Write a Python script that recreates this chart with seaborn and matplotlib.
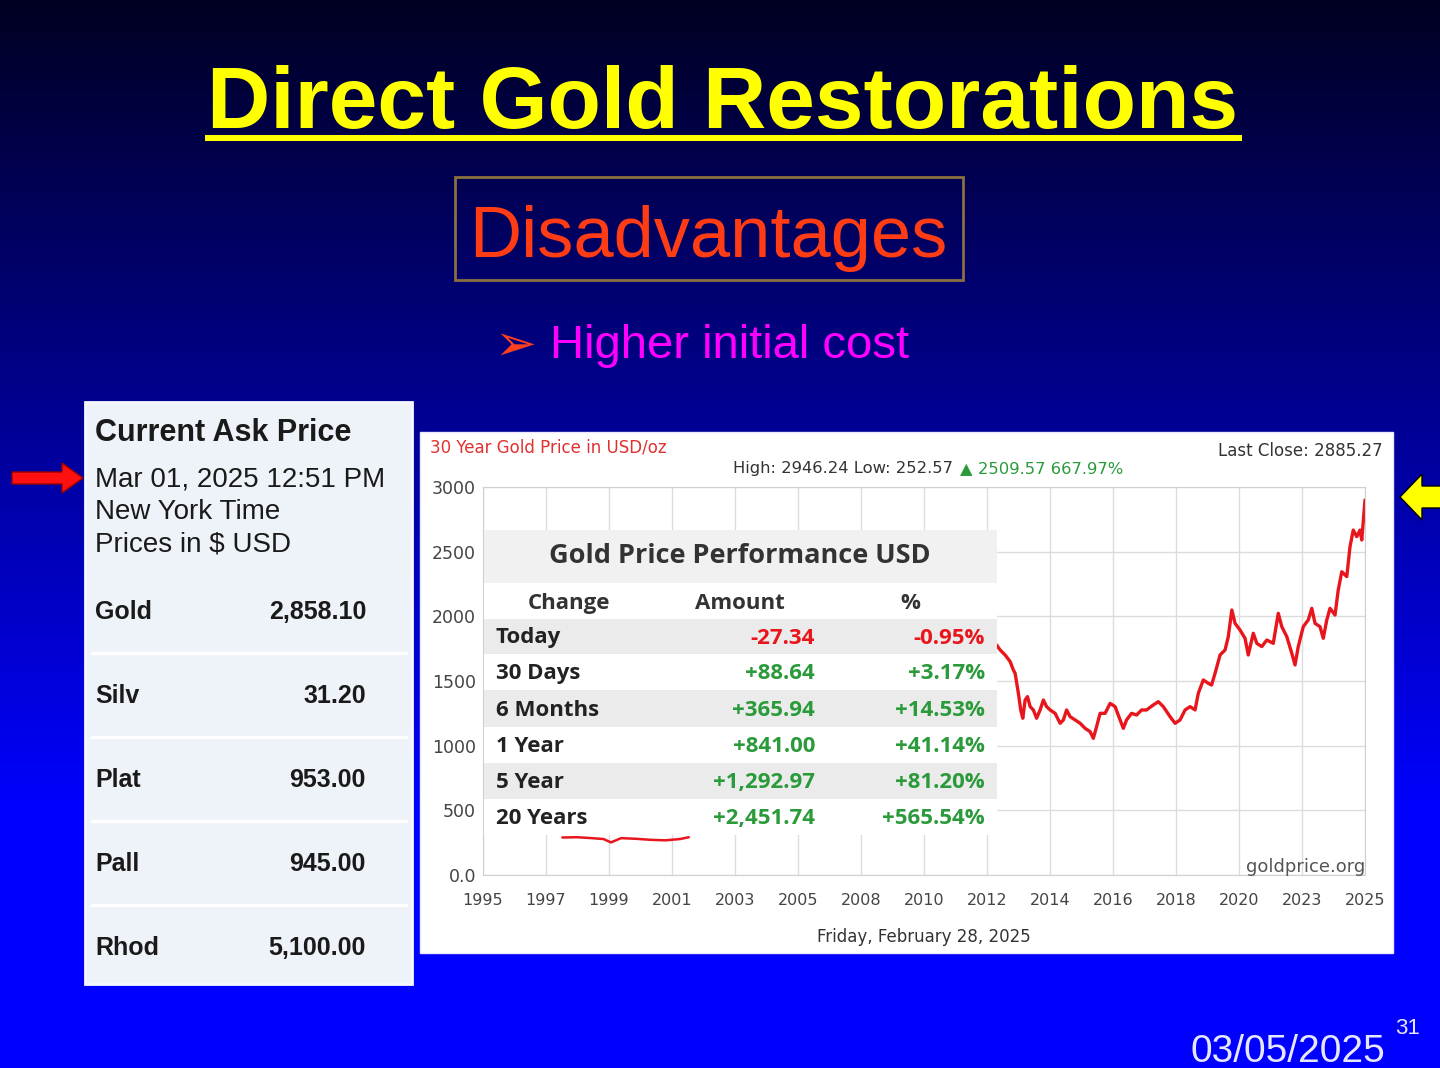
import numpy as np
import matplotlib
matplotlib.use("Agg")
import matplotlib.pyplot as plt
from matplotlib.patches import Rectangle, Polygon
import seaborn as sns

sns.set_style("white")
plt.rcParams['font.family'] = ['DejaVu Sans']

# ---------------- data ----------------
x_tick_labels = ["1995", "1997", "1999", "2001", "2003", "2005", "2008", "2010",
                 "2012", "2014", "2016", "2018", "2020", "2023", "2025"]
y_tick_values = [0, 500, 1000, 1500, 2000, 2500, 3000]
y_tick_labels = ["0.0", "500", "1000", "1500", "2000", "2500", "3000"]

# visible part of the gold line below the table
years_early = [1997.7, 1998.2, 1998.7, 1999.1, 1999.35, 1999.7, 2000.2, 2000.7, 2001.2, 2001.7, 2002.0]
price_early = [290, 292, 285, 278, 252, 285, 280, 272, 268, 278, 292]

# visible part right of the table
years_late = [2012.47, 2012.59, 2012.76, 2012.93, 2013.04, 2013.10, 2013.21, 2013.29, 2013.36, 2013.44,
              2013.52, 2013.61, 2013.72, 2013.83, 2013.95, 2014.06, 2014.17, 2014.29, 2014.46, 2014.63,
              2014.74, 2014.85, 2014.97, 2015.14, 2015.31, 2015.48, 2015.65, 2015.76, 2015.87, 2015.99,
              2016.16, 2016.33, 2016.50, 2016.67, 2016.78, 2016.89, 2017.06, 2017.23, 2017.40, 2017.57,
              2017.80, 2017.97, 2018.14, 2018.37, 2018.54, 2018.71, 2018.88, 2019.05, 2019.22, 2019.33,
              2019.50, 2019.67, 2019.78, 2019.90, 2020.07, 2020.24, 2020.35, 2020.47, 2020.58, 2020.75,
              2020.92, 2021.03, 2021.20, 2021.32, 2021.49, 2021.66, 2021.88, 2022.05, 2022.17, 2022.34,
              2022.51, 2022.62, 2022.73, 2022.90, 2023.07, 2023.19, 2023.30, 2023.47, 2023.58, 2023.70,
              2023.81, 2023.98, 2024.09, 2024.21, 2024.38, 2024.49, 2024.60, 2024.72, 2024.83, 2024.89,
              2025.00]
price_late = [1778, 1740, 1701, 1650, 1585, 1559, 1405, 1276, 1212, 1353,
              1379, 1302, 1276, 1212, 1276, 1353, 1302, 1276, 1250, 1173,
              1199, 1276, 1224, 1199, 1173, 1134, 1108, 1057, 1147, 1250,
              1250, 1327, 1302, 1199, 1134, 1199, 1250, 1237, 1276, 1276,
              1315, 1340, 1302, 1224, 1173, 1199, 1276, 1302, 1276, 1405,
              1508, 1482, 1469, 1559, 1701, 1740, 1843, 2049, 1946, 1894,
              1830, 1701, 1869, 1791, 1766, 1817, 1791, 2023, 1920, 1843,
              1714, 1624, 1766, 1920, 1972, 2062, 1946, 1920, 1830, 1972,
              2062, 2010, 2204, 2345, 2307, 2539, 2667, 2616, 2667, 2590,
              2899]

perf_rows = ["Today", "30 Days", "6 Months", "1 Year", "5 Year", "20 Years"]
perf_amount = ["-27.34", "+88.64", "+365.94", "+841.00", "+1,292.97", "+2,451.74"]
perf_pct = ["-0.95%", "+3.17%", "+14.53%", "+41.14%", "+81.20%", "+565.54%"]

metals = ["Gold", "Silv", "Plat", "Pall", "Rhod"]
metal_prices = ["2,858.10", "31.20", "953.00", "945.00", "5,100.00"]

W, H = 1440, 1068
fig = plt.figure(figsize=(W / 100, H / 100), dpi=100)

# ---------------- background ----------------
bg = fig.add_axes([0, 0, 1, 1])
bg.set_zorder(0)
t = np.linspace(0, 1, 600)[:, None]
b = 0.13 + 0.87 * np.clip(t / 0.76, 0, 1)
img = np.dstack([np.zeros_like(b), np.zeros_like(b), b]) * np.ones((1, 10, 1))
bg.imshow(img, extent=[0, W, H, 0], aspect='auto')
bg.set_xlim(0, W); bg.set_ylim(H, 0); bg.axis('off')
bg.add_patch(Rectangle((420, 432), 973, 521, facecolor='white', edgecolor='#e8e8ff', lw=1))
bg.add_patch(Rectangle((85, 402), 327, 582, facecolor='#eef3f9', edgecolor='#f8f8ff', lw=2))

# ---------------- chart axes ----------------
ax = fig.add_axes([483 / W, (H - 875) / H, 882 / W, 388 / H])
ax.set_zorder(1)
ax.set_facecolor('white')
sns.lineplot(x=years_early, y=price_early, ax=ax, color='#e8161c', lw=1.8)
sns.lineplot(x=years_late, y=price_late, ax=ax, color='#e8161c', lw=2.4)
ax.set_xlim(1995, 2025)
ax.set_ylim(0, 3000)
ax.set_xticks(np.linspace(1995, 2025, len(x_tick_labels)))
ax.set_xticklabels(x_tick_labels, fontsize=11.5)
ax.set_yticks(y_tick_values)
ax.set_yticklabels(y_tick_labels, fontsize=12.5)
ax.grid(True, color='#dcdcdc', lw=1)
ax.tick_params(length=0, colors='#444444')
ax.tick_params(axis='x', pad=13)
ax.tick_params(axis='y', pad=5)
for s in ax.spines.values():
    s.set_color('#d0d0d0')
ax.set_xlabel(""); ax.set_ylabel("")

# ---------------- overlay ----------------
ov = fig.add_axes([0, 0, 1, 1])
ov.set_zorder(3)
ov.patch.set_visible(False)
ov.set_xlim(0, W); ov.set_ylim(H, 0); ov.axis('off')

AR = ['Liberation Sans', 'DejaVu Sans']

# title
ov.text(723, 128, "Direct Gold Restorations", color='#ffff00', fontsize=63,
        fontweight='bold', family=AR, ha='center', va='baseline')
ov.add_patch(Rectangle((205, 135), 1037, 6, facecolor='#ffff00', edgecolor='none'))

ov.add_patch(Rectangle((455, 177), 508, 103, facecolor='none', edgecolor='#8a7040', lw=2))
ov.text(708, 257, "Disadvantages", color='#ff3c14', fontsize=52, family=AR,
        ha='center', va='baseline')
ov.text(515, 360, "\u27a2", color='#ff4020', fontsize=36, family=['DejaVu Sans'],
        ha='center', va='baseline')
ov.text(550, 358, "Higher initial cost", color='#ff00ff', fontsize=34, family=AR,
        ha='left', va='baseline')

# chart header texts
ov.text(430, 453, "30 Year Gold Price in USD/oz", color='#e03030', fontsize=12, ha='left', va='baseline')
ov.text(1383, 456, "Last Close: 2885.27", color='#333333', fontsize=12, ha='right', va='baseline')
ov.text(958, 473, "High: 2946.24 Low: 252.57 ", color='#333333', fontsize=11.8, ha='right', va='baseline')
ov.text(960, 473, "\u25b2 2509.57 667.97%", color='#2a9a3a', fontsize=11.8, ha='left', va='baseline')
ov.text(1306, 872, "goldprice.org", color='#555555', fontsize=13, ha='center', va='baseline')
ov.text(924, 942, "Friday, February 28, 2025", color='#333333', fontsize=12, ha='center', va='baseline')

# performance table
OS = ['Open Sans', 'DejaVu Sans']
tx0, tx1 = 484, 997
ov.add_patch(Rectangle((tx0, 530), tx1 - tx0, 53, facecolor='#f1f1f1', edgecolor='none'))
ov.add_patch(Rectangle((tx0, 583), tx1 - tx0, 36, facecolor='white', edgecolor='none'))
row_top = [619, 654, 690, 727, 763, 799]
row_h = [35, 36, 37, 36, 36, 36]
for i, (lab, am, pc) in enumerate(zip(perf_rows, perf_amount, perf_pct)):
    fc = '#ebebeb' if i % 2 == 0 else 'white'
    ov.add_patch(Rectangle((tx0, row_top[i]), tx1 - tx0, row_h[i], facecolor=fc, edgecolor='none'))
    yb = row_top[i] + row_h[i] / 2 + 7
    col = '#e8161c' if am.startswith('-') else '#2a9a3a'
    ov.text(496, yb, lab, color='#222222', fontsize=16, fontweight='bold', family=OS, ha='left', va='baseline')
    ov.text(815, yb, am, color=col, fontsize=16, fontweight='bold', family=OS, ha='right', va='baseline')
    ov.text(985, yb, pc, color=col, fontsize=16, fontweight='bold', family=OS, ha='right', va='baseline')
ov.text(740, 563, "Gold Price Performance USD", color='#333333', fontsize=19.5,
        fontweight='bold', family=OS, ha='center', va='baseline')
for xx, lab in zip([569, 740, 910], ["Change", "Amount", "%"]):
    ov.text(xx, 609, lab, color='#333333', fontsize=16, fontweight='bold', family=OS,
            ha='center', va='baseline')

# left price panel
ov.text(95, 441, "Current Ask Price", color='#1a1a1a', fontsize=22, fontweight='bold', family=AR,
        ha='left', va='baseline')
ov.text(95, 487, "Mar 01, 2025 12:51 PM", color='#1a1a1a', fontsize=20, family=AR, ha='left', va='baseline')
ov.text(95, 519, "New York Time", color='#1a1a1a', fontsize=20, family=AR, ha='left', va='baseline')
ov.text(95, 551, "Prices in $ USD", color='#1a1a1a', fontsize=20, family=AR, ha='left', va='baseline')
row_y = [611, 695, 779, 863, 947]
for i, (m, p) in enumerate(zip(metals, metal_prices)):
    ov.text(95, row_y[i] + 8, m, color='#1a1a1a', fontsize=18, fontweight='bold', family=AR,
            ha='left', va='baseline')
    ov.text(366, row_y[i] + 8, p, color='#1a1a1a', fontsize=18, fontweight='bold', family=AR,
            ha='right', va='baseline')
    if i > 0:
        ov.plot([92, 406], [row_y[i] - 42, row_y[i] - 42], color='white', lw=2.5)

# arrows
ov.add_patch(Polygon([(12, 472), (62, 472), (62, 463), (83, 478), (62, 493), (62, 484), (12, 484)],
                     closed=True, facecolor='#ff1010', edgecolor='#990000', lw=1))
ov.add_patch(Polygon([(1400, 497), (1422, 474), (1422, 486), (1442, 486), (1442, 508), (1422, 508), (1422, 520)],
                     closed=True, facecolor='#ffff00', edgecolor='black', lw=1))

# footer
ov.text(1190, 1062, "03/05/2025", color='#e6e6ff', fontsize=28, family=AR, ha='left', va='baseline')
ov.text(1395, 1034, "31", color='#e6e6ff', fontsize=16, family=AR, ha='left', va='baseline')

fig.savefig("out.png", dpi=100)
